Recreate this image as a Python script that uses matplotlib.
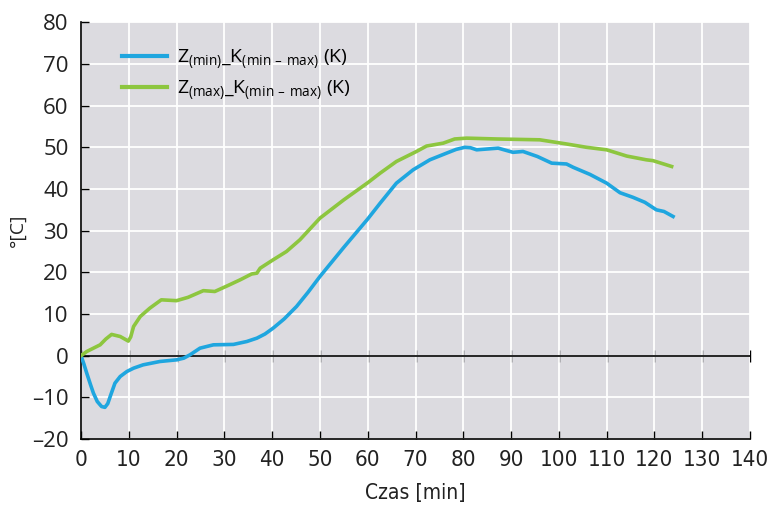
#!/usr/bin/env python

# Temperature curves, Z(min) and Z(max) over time
import matplotlib.pyplot as plt

plt.rcParams['mathtext.default'] = 'regular'

# time [min] and temperature [°C]
t_min = [0, 0.6, 1.2, 2.0, 2.6, 3.4, 4.3, 5.0, 5.6, 6.2, 7.1, 8.2, 9.6, 11,
         13, 16.5, 20, 21.5, 22.8, 24.9, 27.7, 31.9, 34.7, 36.8, 38.5, 40.2,
         42.5, 45.1, 47.5, 50, 55, 60, 62.6, 66, 69.5, 73, 76.5, 78.5, 80.3,
         81.5, 82.8, 87.3, 90.4, 92.5, 95.5, 98.5, 101.6, 103, 106.5, 110,
         112.8, 115.5, 118, 120.4, 122, 123.9]
z_min = [0, -2.0, -4.2, -7.0, -9.0, -11.0, -12.2, -12.4, -11.5, -9.5, -6.6,
         -5.0, -3.8, -3.0, -2.2, -1.4, -1.0, -0.6, 0.2, 1.8, 2.6, 2.7, 3.4,
         4.2, 5.2, 6.6, 8.8, 11.8, 15.2, 19.0, 26.0, 32.8, 36.6, 41.4, 44.6,
         47.0, 48.6, 49.5, 50.0, 49.9, 49.4, 49.8, 48.8, 49.0, 47.8, 46.2, 46.0,
         45.2, 43.5, 41.4, 39.1, 38.0, 36.8, 35.0, 34.6, 33.4]

t_max = [0, 1.2, 4, 5.2, 6.4, 8.2, 9.9, 10.4, 11, 12.4, 14.4, 16.8, 20, 22.4,
         25.6, 28, 30.5, 33.3, 35.7, 36.8, 37.5, 40.2, 43, 45.8, 50, 55, 60,
         62.6, 66, 70.2, 72.3, 75.8, 78.2, 80.7, 87, 96, 101.6, 105.8, 110,
         114.2, 118.3, 119.7, 123.6]
z_max = [0, 1.0, 2.6, 4.0, 5.1, 4.6, 3.5, 4.5, 7.0, 9.4, 11.4, 13.4, 13.2,
         14.0, 15.6, 15.4, 16.7, 18.2, 19.6, 19.8, 21.0, 23.0, 25.0, 27.8,
         33.0, 37.4, 41.5, 43.8, 46.6, 49.0, 50.3, 51.0, 52.0, 52.2, 52.0,
         51.8, 50.8, 50.0, 49.4, 47.9, 47.0, 46.8, 45.4]

x_ticks = list(range(0, 141, 10))
y_ticks = list(range(-20, 81, 10))

narrow = dict(family=['DejaVu Sans'], stretch='condensed')

fig = plt.figure(figsize=(7.76, 5.09), dpi=100)
ax = fig.add_axes([0.1044, 0.1375, 0.8621, 0.8187])
ax.set_facecolor('#dcdbe0')

ax.plot(t_min, z_min, color='#1fa6df', linewidth=2.6, zorder=3,
        solid_joinstyle='round', label=r'Z$_{(min)}$_K$_{(min\ –\ max)}$ (K)')
ax.plot(t_max, z_max, color='#8dc63f', linewidth=2.6, zorder=3,
        solid_joinstyle='round', label=r'Z$_{(max)}$_K$_{(min\ –\ max)}$ (K)')
ax.axhline(0, color='black', linewidth=1.2, zorder=2.5)

ax.set_xlim(0, 140)
ax.set_ylim(-20, 80)
ax.set_xticks(x_ticks)
ax.set_yticks(y_ticks)
ax.set_yticklabels([str(v).replace('-', '\u2013') for v in y_ticks])
ax.grid(color='white', linewidth=1.3)
ax.set_axisbelow(True)

for s in ['top', 'right']:
    ax.spines[s].set_visible(False)
for s in ['left', 'bottom']:
    ax.spines[s].set_color('black')
    ax.spines[s].set_linewidth(1.2)

ax.tick_params(axis='both', direction='in', length=6, width=1, colors='black')
ax.tick_params(axis='y', labelsize=16, pad=9)
ax.tick_params(axis='x', pad=8)
for lab in ax.get_xticklabels():
    lab.set_family(narrow['family'])
    lab.set_stretch(narrow['stretch'])
    lab.set_fontsize(16)
    lab.set_color('#222222')
for lab in ax.get_yticklabels():
    lab.set_family(['Open Sans', 'DejaVu Sans'])
    lab.set_color('#222222')

# ticks on the zero line
zero = ax.secondary_xaxis(0.2)
zero.set_xticks(x_ticks)
zero.tick_params(direction='inout', length=9, width=1, colors='black',
                 labelbottom=False)
zero.spines['bottom'].set_visible(False)

ax.set_xlabel('Czas [min]', fontsize=15, labelpad=9, color='#222222', **narrow)
ax.set_ylabel('°[C]', fontsize=14, labelpad=4,
              family=['Open Sans', 'DejaVu Sans'], color='#222222')

leg = ax.legend(loc='upper left', bbox_to_anchor=(0.061, 0.94), frameon=False,
                borderpad=0, borderaxespad=0,
                handlelength=2.3, handletextpad=0.55, labelspacing=0.35,
                prop={'family': ['Open Sans', 'DejaVu Sans'], 'size': 14})
for h in leg.get_lines():
    h.set_linewidth(3)

plt.savefig('out.png')
